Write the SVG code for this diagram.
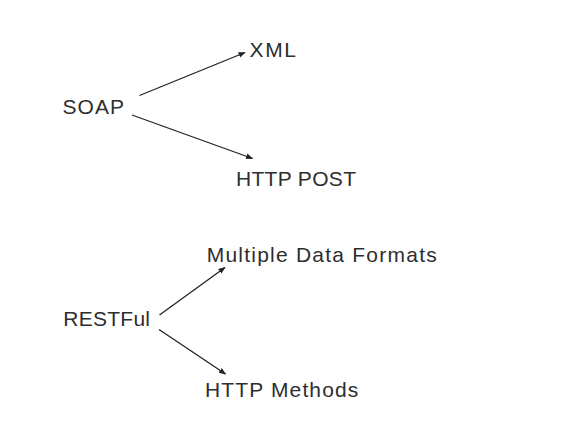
<svg xmlns="http://www.w3.org/2000/svg" width="561" height="432" viewBox="0 0 561 432">
<style>
text{font-family:"Liberation Sans",Arial,sans-serif;font-size:21px;fill:#2e2e2e;}
.c{stroke:#222;stroke-width:1.3;fill:none;marker-end:url(#ah);}
</style>
<defs>
<marker id="ah" viewBox="0 0 10 10" refX="9" refY="5" markerWidth="5.5" markerHeight="5.5" orient="auto" markerUnits="strokeWidth">
<path d="M0,1 L10,5 L0,9 z" fill="#222"/>
</marker>
</defs>
<rect width="561" height="432" fill="#fff"/>
<g id="connectors">
<line class="c" x1="139.5" y1="95.5" x2="245" y2="52.5"/>
<line class="c" x1="132" y1="115" x2="252.5" y2="158.5"/>
<line class="c" x1="159.5" y1="315" x2="225" y2="267.5"/>
<line class="c" x1="159" y1="329.5" x2="225.5" y2="374"/>
</g>
<g id="soap"><text x="62.5" y="114.3" textLength="61.5" lengthAdjust="spacing">SOAP</text></g>
<g id="xml"><text x="249.5" y="56.7" textLength="46.5" lengthAdjust="spacing">XML</text></g>
<g id="httppost"><text x="236" y="185.7" textLength="120" lengthAdjust="spacing">HTTP POST</text></g>
<g id="restful"><text x="63.3" y="325.7" textLength="86.7" lengthAdjust="spacing">RESTFul</text></g>
<g id="formats"><text x="206.7" y="262.3" textLength="230" lengthAdjust="spacing">Multiple Data Formats</text></g>
<g id="methods"><text x="205" y="396.7" textLength="153.3" lengthAdjust="spacing">HTTP Methods</text></g>
</svg>
